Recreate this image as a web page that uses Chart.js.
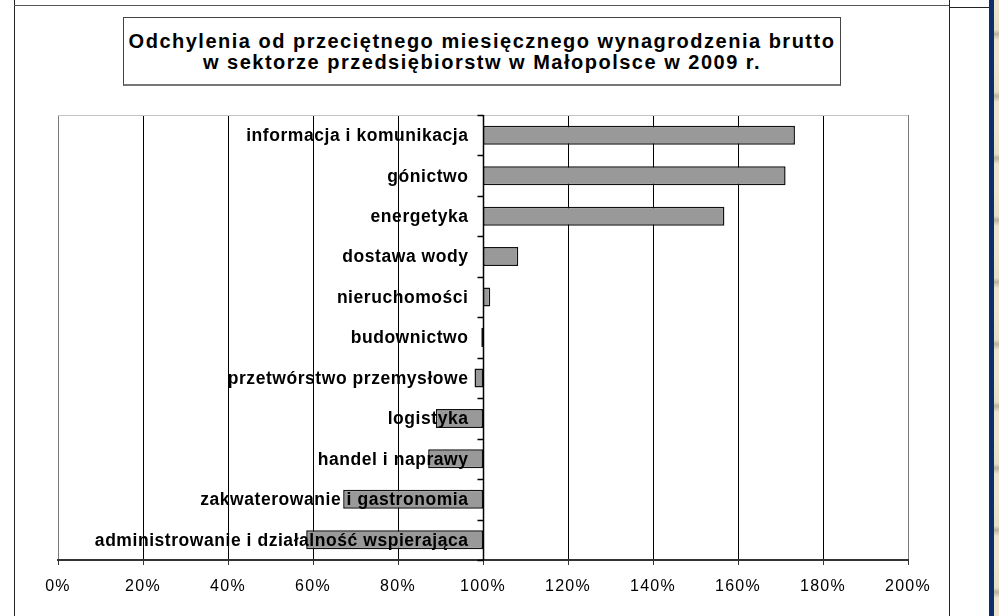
<!DOCTYPE html>
<html>
<head>
<meta charset="utf-8">
<script src="https://cdn.jsdelivr.net/npm/chart.js@4/dist/chart.umd.min.js"></script>
<style>
  html, body { margin: 0; padding: 0; background: #fff; }
  #wrap { position: relative; width: 999px; height: 616px; overflow: hidden; background: #fff; }
  #chart { position: absolute; left: 0; top: 0; }
  .frame { position: absolute; background: #222; }
  #title {
    position: absolute; left: 123px; top: 17px; width: 718px; height: 69px;
    box-sizing: border-box; border: 1px solid #444; border-bottom: 2px solid #777;
    display: flex; align-items: center; justify-content: center; text-align: center;
    font: bold 20px "Liberation Sans", Arial, sans-serif; letter-spacing: 1.5px;
    line-height: 21px; color: #000; background: #fff; padding-top: 1px;
  }
  #side-blue { position: absolute; left: 989px; top: 0; width: 5px; height: 616px; background: #0c2f6a; }
  #side-tex {
    position: absolute; left: 994px; top: 0; width: 5px; height: 616px;
    background: repeating-linear-gradient(180deg, #ece6d0 0px, #e6dfc6 30px, #b9b29c 34px, #ece6d0 40px, #ece6d0 62px);
  }
</style>
</head>
<body>
<div id="wrap">
  <canvas id="chart" width="999" height="616"></canvas>
  <div class="frame" style="left:14px; top:0; width:1px; height:616px;"></div>
  <div class="frame" style="left:14px; top:5px; width:935px; height:1px; background:#555;"></div>
  <div class="frame" style="left:949px; top:0; width:1px; height:616px;"></div>
  <div class="frame" style="left:949px; top:7px; width:40px; height:1px;"></div>
  <div id="side-blue"></div>
  <div id="side-tex"></div>
  <div id="title">Odchylenia od przeciętnego miesięcznego wynagrodzenia brutto<br>w sektorze przedsiębiorstw w Małopolsce w 2009 r.</div>
</div>
<script>
// sectors, top to bottom
const categories = [
  "informacja i komunikacja",
  "gónictwo",
  "energetyka",
  "dostawa wody",
  "nieruchomości",
  "budownictwo",
  "przetwórstwo przemysłowe",
  "logistyka",
  "handel i naprawy",
  "zakwaterowanie i gastronomia",
  "administrowanie i działalność wspierająca"
];
// wage in the sector as % of the average (bars start at 100%)
const wagePercent = [173.4, 171.2, 156.8, 108.3, 101.7, 99.6, 98.0, 88.9, 87.1, 67.1, 58.4];
const baseline = 100;
const xTicks = ["0%", "20%", "40%", "60%", "80%", "100%", "120%", "140%", "160%", "180%", "200%"];

const FONT = '"Liberation Sans", Arial, sans-serif';

// labels sit left of the 100% axis and are painted over the bars
const axisAt100 = {
  id: "axisAt100",
  beforeDraw(chart) {
    chart.ctx.letterSpacing = "1.3px";
  },
  beforeDatasetsDraw(chart) {
    const { ctx, chartArea: a } = chart;
    ctx.save();
    ctx.strokeStyle = "#c4c4c4";
    ctx.lineWidth = 1;
    ctx.beginPath();
    ctx.moveTo(a.left, a.top + 0.5);
    ctx.lineTo(a.right, a.top + 0.5);
    ctx.stroke();
    ctx.restore();
  },
  afterDatasetsDraw(chart) {
    const { ctx, chartArea: a, scales } = chart;
    const x = Math.round(scales.x.getPixelForValue(baseline)) + 0.5;
    const step = (a.bottom - a.top) / categories.length;
    ctx.save();
    ctx.strokeStyle = "#000";
    ctx.lineWidth = 1.5;
    ctx.beginPath();
    ctx.moveTo(x, a.top);
    ctx.lineTo(x, a.bottom);
    for (let i = 0; i <= categories.length; i++) {
      const y = Math.round(a.top + i * step) + 0.5;
      ctx.moveTo(x - 6, y);
      ctx.lineTo(x, y);
    }
    ctx.stroke();
    ctx.fillStyle = "#000";
    ctx.font = "bold 17.5px " + FONT;
    ctx.letterSpacing = "0.55px";
    ctx.textAlign = "right";
    ctx.textBaseline = "middle";
    categories.forEach((c, i) => {
      ctx.fillText(c, x - 15, scales.y.getPixelForValue(i) + 1);
    });
    ctx.restore();
  }
};

new Chart(document.getElementById("chart"), {
  type: "bar",
  data: {
    labels: categories,
    datasets: [{
      data: wagePercent.map(v => [baseline, v]),
      backgroundColor: "#999999",
      borderColor: "#111",
      borderWidth: 1.5,
      borderSkipped: false,
      categoryPercentage: 1,
      barPercentage: 0.47
    }]
  },
  options: {
    indexAxis: "y",
    responsive: false,
    animation: false,
    devicePixelRatio: 1,
    layout: { padding: { left: 58, right: 91, top: 115, bottom: 16 } },
    plugins: {
      legend: { display: false },
      title: { display: false },
      tooltip: { enabled: false }
    },
    scales: {
      x: {
        min: 0,
        max: 200,
        ticks: {
          stepSize: 20,
          padding: 12,
          color: "#000",
          font: { family: FONT, size: 16 },
          callback: (v, i) => xTicks[i]
        },
        grid: {
          color: ctx => (ctx.index === 0 || ctx.index === xTicks.length - 1) ? "#7a7a7a" : "#000",
          lineWidth: 1,
          tickLength: 5,
          tickColor: "#333"
        },
        border: { color: "#333", width: 2 },
        afterFit: scale => { scale.height = 40; }
      },
      y: {
        display: false,
        grid: { display: false }
      }
    }
  },
  plugins: [axisAt100]
});
</script>
</body>
</html>
